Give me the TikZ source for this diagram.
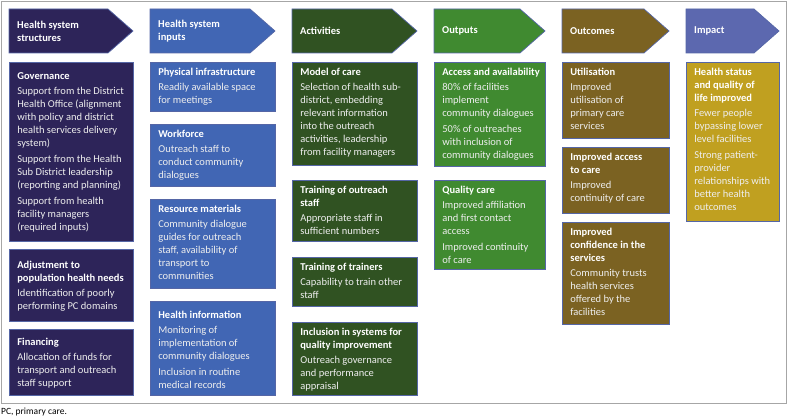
\documentclass[tikz,border=0pt]{standalone}
\usepackage{fontspec}
\setmainfont{Carlito}

\definecolor{navy}{HTML}{2D2459}
\definecolor{midblue}{HTML}{4166B4}
\definecolor{darkgreen}{HTML}{305222}
\definecolor{leafgreen}{HTML}{408A30}
\definecolor{olive}{HTML}{7B6222}
\definecolor{slate}{HTML}{5C68AF}
\definecolor{gold}{HTML}{C0A020}
\definecolor{edge}{HTML}{5566A6}
\definecolor{bodytext}{HTML}{EEEEEE}

% text of one panel: [extra top space], width, height (px), title, body
\newcommand{\paneltxt}[5][0]{\makebox[\dimexpr#2pt-16pt\relax][l]{%
  \parbox[c][\dimexpr#3pt-12pt\relax][t]{#2pt}{\vspace*{#1pt}%
  \raggedright\textbf{\color{white}#4}\par\vspace{2pt}\color{bodytext}#5}}}
\newcommand{\itemgap}{\par\vspace{3pt}}

\tikzset{
  panel/.style={draw=edge, line width=0.7pt, fill=#1, anchor=north west,
    inner xsep=8pt, inner ysep=6pt, font=\fontsize{10.5}{13}\selectfont},
  hdshape/.style={draw=edge, line width=0.7pt},
  hdtext/.style={anchor=west, text=white, align=left, inner sep=0pt,
    font=\bfseries\fontsize{10.5}{13}\selectfont},
}

\begin{document}
\begin{tikzpicture}[x=1pt, y=-1pt]
  \useasboundingbox (0,0) rectangle (788,420);
  \draw [gray!70, line width=0.8pt] (1,1) rectangle (786,403);

  % column headers
  \foreach \n/\x/\w/\c/\t in {hdstruct/9/124/navy/{Health system\\structures},
      hdinput/150/125/midblue/{Health system\\inputs},
      hdact/292/125/darkgreen/{Activities},
      hdout/434/111/leafgreen/{Outputs},
      hdcome/562/107/olive/{Outcomes},
      hdimp/686/93/slate/{Impact}} {
    \draw [hdshape, fill=\c] (\x,9) -- (\x+\w-25,9) -- (\x+\w,31) -- (\x+\w-25,53) -- (\x,53) -- cycle;
    \node [hdtext] (\n) at (\x+8,31) {\t};
  }

  % health system structures
  \node [panel=navy] (gov) at (9,62) {\paneltxt[4]{124}{179}{Governance}{Support from the District\\Health Office (alignment\\with policy and district\\health services delivery\\system)
    \itemgap Support from the Health\\Sub District leadership\\(reporting and planning)
    \itemgap Support from health\\facility managers\\(required inputs)}};
  \node [panel=navy] (adj) at (9,249) {\paneltxt[6]{124}{72}{Adjustment to\\population health needs}{Identification of poorly\\performing PC domains}};
  \node [panel=navy] (fin) at (9,329) {\paneltxt[3]{124}{66}{Financing}{Allocation of funds for\\transport and outreach\\staff support}};

  % health system inputs
  \node [panel=midblue] (phys) at (150,62) {\paneltxt{125}{49}{Physical infrastructure}{Readily available space\\for meetings}};
  \node [panel=midblue] (work) at (150,124) {\paneltxt{125}{62}{Workforce}{Outreach staff to\\conduct community\\dialogues}};
  \node [panel=midblue] (res) at (150,199) {\paneltxt{125}{89}{Resource materials}{Community dialogue\\guides for outreach\\staff, availability of\\transport to\\communities}};
  \node [panel=midblue] (info) at (150,301) {\paneltxt[4]{125}{94}{Health information}{Monitoring of\\implementation of\\community dialogues
    \itemgap Inclusion in routine\\medical records}};

  % activities
  \node [panel=darkgreen] (moc) at (292,62) {\paneltxt{125}{103}{Model of care}{Selection of health sub-\\district, embedding\\relevant information\\into the outreach\\activities, leadership\\from facility managers}};
  \node [panel=darkgreen] (tos) at (292,180) {\paneltxt{125}{61}{Training of outreach\\staff}{Appropriate staff in\\sufficient numbers}};
  \node [panel=darkgreen] (tot) at (292,257) {\paneltxt{125}{49}{Training of trainers}{Capability to train other\\staff}};
  \node [panel=darkgreen] (qi) at (292,322) {\paneltxt{125}{73}{Inclusion in systems for\\quality improvement}{Outreach governance\\and performance\\appraisal}};

  % outputs
  \node [panel=leafgreen] (acc) at (434,62) {\paneltxt{111}{104}{Access and availability}{80\% of facilities\\implement\\community dialogues
    \itemgap 50\% of outreaches\\with inclusion of\\community dialogues}};
  \node [panel=leafgreen] (qc) at (434,180) {\paneltxt{111}{89}{Quality care}{Improved affiliation\\and first contact\\access
    \itemgap Improved continuity\\of care}};

  % outcomes
  \node [panel=olive] (util) at (562,62) {\paneltxt{107}{76}{Utilisation}{Improved\\utilisation of\\primary care\\services}};
  \node [panel=olive] (iac) at (562,147) {\paneltxt{107}{66}{Improved access\\to care}{Improved\\continuity of care}};
  \node [panel=olive] (conf) at (562,222) {\paneltxt{107}{102}{Improved\\confidence in the\\services}{Community trusts\\health services\\offered by the\\facilities}};

  % impact
  \node [panel=gold] (hs) at (686,62) {\paneltxt{93}{159}{Health status\\and quality of\\life improved}{Fewer people\\bypassing lower\\level facilities
    \itemgap Strong patient-\\provider\\relationships with\\better health\\outcomes}};

  \node [anchor=west, inner sep=0pt, font=\fontsize{9.5}{11}\selectfont] (note) at (1,412) {PC, primary care.};
\end{tikzpicture}
\end{document}
